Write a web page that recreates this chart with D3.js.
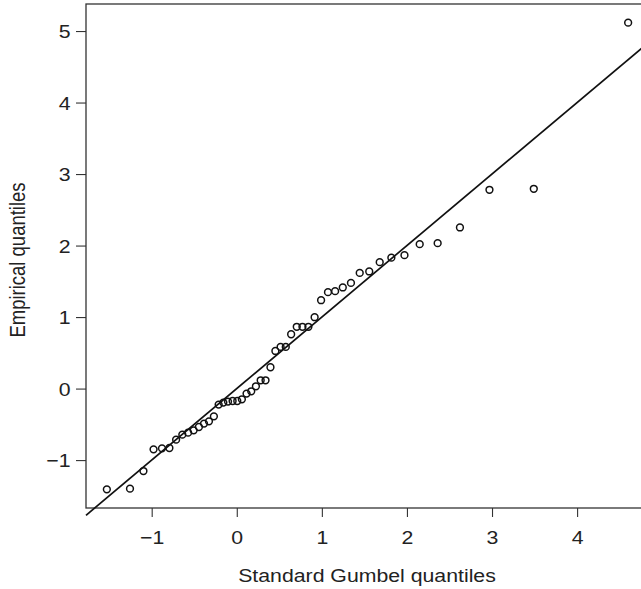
<!DOCTYPE html>
<html>
<head>
<meta charset="utf-8">
<script src="https://d3js.org/d3.v7.min.js"></script>
<style>
  body { margin: 0; background: #fff; }
  svg { display: block; font-family: "Liberation Sans", Arial, sans-serif; }
</style>
</head>
<body>
<svg width="641" height="589"></svg>
<script>
// theoretical Gumbel quantiles (x) and sorted sample values (y)
var gumbelQ = [-1.527, -1.255, -1.097, -0.978, -0.879, -0.792, -0.713, -0.640, -0.572, -0.507,
  -0.445, -0.385, -0.327, -0.269, -0.213, -0.158, -0.103, -0.049, 0.006, 0.060,
  0.115, 0.170, 0.225, 0.281, 0.338, 0.396, 0.454, 0.515, 0.576, 0.639,
  0.705, 0.772, 0.842, 0.915, 0.991, 1.072, 1.156, 1.246, 1.342, 1.445,
  1.557, 1.680, 1.817, 1.971, 2.150, 2.361, 2.623, 2.970, 3.491, 4.600];
var empiricalQ = [-1.409, -1.400, -1.153, -0.850, -0.836, -0.831, -0.714, -0.644, -0.616, -0.584,
  -0.537, -0.490, -0.458, -0.388, -0.224, -0.196, -0.182, -0.174, -0.174, -0.150,
  -0.070, -0.038, 0.032, 0.116, 0.116, 0.298, 0.526, 0.583, 0.583, 0.760,
  0.864, 0.864, 0.864, 0.998, 1.236, 1.348, 1.362, 1.414, 1.478, 1.618,
  1.638, 1.768, 1.831, 1.866, 2.020, 2.034, 2.253, 2.780, 2.794, 5.117];
var xTicks = [-1, 0, 1, 2, 3, 4];
var yTicks = [-1, 0, 1, 2, 3, 4, 5];
var fitLine = {intercept: 0, slope: 1};

var svg = d3.select("svg");
var mLeft = 86, mRight = 649, mTop = 4, mBottom = 508;
var fontSize = 18.5, stretch = 1.15;   // glyphs come out a bit wide

// pad the data range by 4% on each side
var xr = d3.extent(gumbelQ), yr = d3.extent(empiricalQ);
var xPad = (xr[1] - xr[0]) * 0.04, yPad = (yr[1] - yr[0]) * 0.04;
var x = d3.scaleLinear().domain([xr[0] - xPad, xr[1] + xPad]).range([mLeft, mRight]);
var y = d3.scaleLinear().domain([yr[0] - yPad, yr[1] + yPad]).range([mBottom, mTop]);

var fmt = function(d) { return d < 0 ? "\u2212" + Math.abs(d) : d; };

svg.append("g")
  .attr("transform", "translate(0," + mBottom + ")")
  .call(d3.axisBottom(x).tickValues(xTicks).tickFormat(fmt).tickSize(9))
  .call(function(g) {
    g.select(".domain").remove();
    g.selectAll("line").attr("stroke", "#333").attr("stroke-width", 1.1);
    g.selectAll("text")
      .attr("font-size", fontSize).attr("fill", "#222").attr("font-family", null)
      .attr("y", 36).attr("dy", null)
      .attr("transform", "scale(" + stretch + ",1)");
  });

svg.append("g")
  .attr("transform", "translate(" + mLeft + ",0)")
  .call(d3.axisLeft(y).tickValues(yTicks).tickFormat(fmt).tickSize(10))
  .call(function(g) {
    g.select(".domain").remove();
    g.selectAll("line").attr("stroke", "#333").attr("stroke-width", 1.1);
    g.selectAll("text")
      .attr("font-size", fontSize).attr("fill", "#222").attr("font-family", null)
      .attr("x", -15.5 / stretch).attr("dy", "0.36em")
      .attr("transform", "scale(" + stretch + ",1)");
  });

// plot frame
svg.append("rect")
  .attr("x", mLeft).attr("y", mTop)
  .attr("width", mRight - mLeft).attr("height", mBottom - mTop)
  .attr("fill", "none").attr("stroke", "#333").attr("stroke-width", 1.3);

// reference line across the x range
var xd = x.domain();
svg.append("line")
  .attr("x1", x(xd[0])).attr("y1", y(fitLine.intercept + fitLine.slope * xd[0]))
  .attr("x2", x(xd[1])).attr("y2", y(fitLine.intercept + fitLine.slope * xd[1]))
  .attr("stroke", "#111").attr("stroke-width", 1.7);

svg.append("g").selectAll("circle")
  .data(gumbelQ)
  .enter().append("circle")
    .attr("cx", function(d) { return x(d); })
    .attr("cy", function(d, i) { return y(empiricalQ[i]); })
    .attr("r", 3.4)
    .attr("fill", "none")
    .attr("stroke", "#111")
    .attr("stroke-width", 1.5);

svg.append("text")
  .attr("transform", "translate(367,582) scale(" + stretch + ",1)")
  .attr("text-anchor", "middle")
  .attr("font-size", fontSize).attr("fill", "#222")
  .text("Standard Gumbel quantiles");

svg.append("text")
  .attr("transform", "translate(25,260) rotate(-90) scale(1," + stretch + ")")
  .attr("text-anchor", "middle")
  .attr("font-size", fontSize).attr("fill", "#222")
  .text("Empirical quantiles");
</script>
</body>
</html>
